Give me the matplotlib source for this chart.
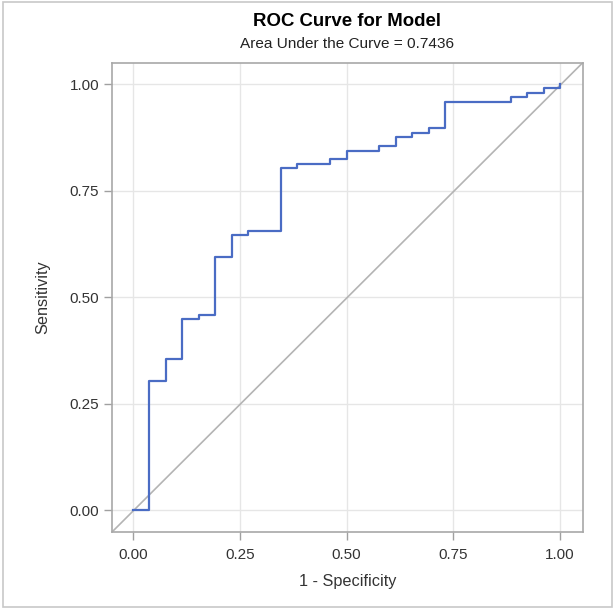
import matplotlib
matplotlib.use('Agg')
from matplotlib import pyplot as plt
from matplotlib.patches import Rectangle
import numpy as np

# ROC step vertices, read as counts: 26 negatives, 96 positives
n_neg = 26
n_pos = 96
fp_counts = [0, 1, 2, 3, 4, 5, 6, 7, 9, 10, 12, 13, 15, 16, 17, 18, 19, 23, 24, 25, 26]
tp_counts = [0, 29, 34, 43, 44, 57, 62, 63, 77, 78, 79, 81, 82, 84, 85, 86, 92, 93, 94, 95, 96]
auc_text = 'Area Under the Curve = 0.7436'
ticks = [0.0, 0.25, 0.5, 0.75, 1.0]
tick_labels = ['0.00', '0.25', '0.50', '0.75', '1.00']

plt.rcParams['font.family'] = ['Liberation Sans', 'DejaVu Sans']
txt = '#333333'

fpr = np.array(fp_counts) / n_neg
tpr = np.array(tp_counts) / n_pos

fig = plt.figure(figsize=(6.15, 6.09), dpi=100)
ax = fig.add_axes([0.1816, 0.1259, 0.9475 - 0.1816, 0.897 - 0.1259])

ax.set_xlim(-0.05, 1.053)
ax.set_ylim(-0.052, 1.05)
ax.grid(True, color='#e6e6e6', lw=1.0)
ax.set_axisbelow(True)

# chance line across the whole plot area
ax.plot([0, 1], [0, 1], transform=ax.transAxes, color='#b4b4b4', lw=1.2, zorder=2)
ax.plot(fpr, tpr, drawstyle='steps-post', color='#4a6cc4', lw=1.6, zorder=3)

ax.set_xticks(ticks)
ax.set_xticklabels(tick_labels)
ax.set_yticks(ticks)
ax.set_yticklabels(tick_labels)
ax.tick_params(length=6, width=1, color='#a0a0a0', labelsize=11, labelcolor=txt, pad=5)
ax.tick_params(axis='y', pad=3)
for s in ax.spines.values():
    s.set_color('#a8a8a8')
    s.set_linewidth(1.2)

ax.set_xlabel('1 - Specificity', fontsize=11.7, color=txt, labelpad=9)
ax.set_ylabel('Sensitivity', fontsize=11.7, color=txt, labelpad=14)

fig.text(0.565, 1 - 22 / 609, 'ROC Curve for Model', ha='center', va='center',
         fontsize=13.4, fontweight='bold', color='black')
fig.text(0.565, 1 - 44 / 609, auc_text, ha='center', va='center',
         fontsize=11.1, color='#222222')

# outer frame around the whole graph
fig.patches.append(Rectangle((3 / 615, 2 / 609), 609 / 615, 605 / 609, transform=fig.transFigure,
                             fill=False, edgecolor='#c8c8c8', lw=1.2))

fig.savefig('out.png', dpi=100)
